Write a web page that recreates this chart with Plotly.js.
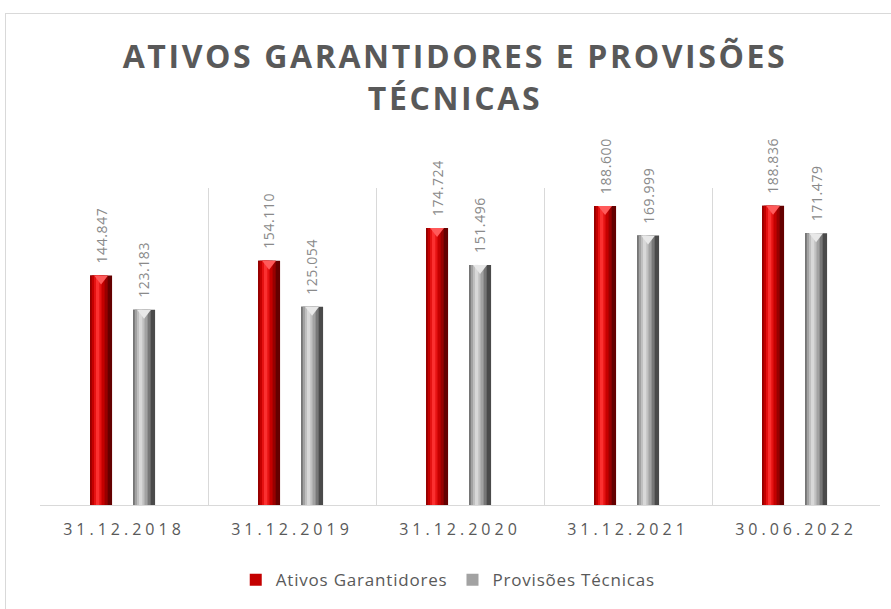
<!DOCTYPE html>
<html><head><meta charset="utf-8">
<script src="https://cdn.plot.ly/plotly-3.0.1.min.js"></script>
<style>
html,body{margin:0;padding:0;background:#fff;overflow:hidden;}
#frame{position:absolute;left:5px;top:13px;width:1000px;height:700px;border:1px solid #d9d9d9;}
#chart{position:absolute;left:0;top:0;width:891px;height:609px;}
.gtitle{letter-spacing:2.6px;}
.xtick text{letter-spacing:4px;}
.annotation-text{letter-spacing:0.6px;}
.legendtext{letter-spacing:0.8px;}
</style></head>
<body><div id="frame"></div><div id="chart"></div>
<script>
// ---- data ----
const dates = ['31.12.2018','31.12.2019','31.12.2020','31.12.2021','30.06.2022'];
const ativos = [144847, 154110, 174724, 188600, 188836];
const provisoes = [123183, 125054, 151496, 169999, 171479];
const seriesNames = ['Ativos Garantidores', 'Provisões Técnicas'];

// ---- styling ----
const Y_MAX = 200000;
const PLOT_H = 317;
const BAR_W = 0.131;
const redLayers = [[0,1,'#640000'],[0,0.8,'#980000'],[0.08,0.66,'#c40000'],[0.18,0.52,'#e61212'],[0.27,0.42,'#fb3030']];
const greyLayers = [[0,1,'#4a4a4a'],[0,0.8,'#777777'],[0.08,0.66,'#a2a2a2'],[0.18,0.52,'#c0c0c0'],[0.27,0.42,'#d8d8d8']];

const series = [
  {name: seriesNames[0], values: ativos, left: -0.202, layers: redLayers, tri: '#ff5a5a'},
  {name: seriesNames[1], values: provisoes, left: 0.054, layers: greyLayers, tri: '#e8e8e8'}
];

function fmt(v){ return String(v).replace(/\B(?=(\d{3})+(?!\d))/g, '.'); }

const traces = [];
const annotations = [];
const triOffset = 3 * Y_MAX / PLOT_H;

series.forEach(s => {
  s.layers.forEach((L, li) => {
    traces.push({
      type: 'bar', x: dates, y: s.values, name: s.name,
      offset: s.left + L[0]*BAR_W, width: (L[1]-L[0])*BAR_W,
      marker: {color: L[2], line: {width: 0}},
      showlegend: li === 2, legendgroup: s.name, hoverinfo: 'skip'
    });
  });
  traces.push({
    type: 'scatter', mode: 'markers', xaxis: 'x2',
    x: dates.map((d, i) => i + s.left + BAR_W/2),
    y: s.values.map(v => v - triOffset),
    marker: {symbol: 'triangle-down', size: 12, color: s.tri, line: {width: 0}},
    showlegend: false, hoverinfo: 'skip'
  });
  s.values.forEach((v, i) => {
    annotations.push({
      x: i + s.left + BAR_W/2, y: v, xref: 'x', yref: 'y',
      text: fmt(v), textangle: -90, showarrow: false,
      xanchor: 'center', yanchor: 'bottom', yshift: 10,
      font: {family: 'Open Sans', size: 14, color: '#8a8a8a'}
    });
  });
});

const layout = {
  width: 891, height: 609,
  margin: {l: 40, r: 11, t: 188, b: 104},
  paper_bgcolor: 'rgba(0,0,0,0)', plot_bgcolor: 'rgba(0,0,0,0)',
  barmode: 'overlay',
  title: {
    text: 'ATIVOS GARANTIDORES E PROVISÕES<br>TÉCNICAS',
    font: {family: 'Open Sans', size: 32, weight: 700, color: '#595959'},
    x: 455/891, xref: 'container', xanchor: 'center',
    y: 1 - 68/609, yref: 'container', yanchor: 'top'
  },
  xaxis: {
    type: 'category', range: [-0.5, 4.5], tickson: 'boundaries',
    showgrid: true, gridcolor: '#d9d9d9', gridwidth: 1,
    showline: true, linecolor: '#d9d9d9', linewidth: 1,
    ticks: '', ticklabelstandoff: 10,
    tickfont: {family: 'Open Sans', size: 16, color: '#595959'},
    fixedrange: true
  },
  xaxis2: {overlaying: 'x', range: [-0.5, 4.5], visible: false, fixedrange: true},
  yaxis: {range: [0, Y_MAX], visible: false, showgrid: false, zeroline: false, fixedrange: true},
  legend: {
    orientation: 'h', x: 0.486, xanchor: 'center', y: -0.237, yanchor: 'middle',
    font: {family: 'Open Sans', size: 17, color: '#595959'}
  },
  annotations: annotations,
  showlegend: true
};

Plotly.newPlot('chart', traces, layout, {displayModeBar: false, staticPlot: true});
</script></body></html>
